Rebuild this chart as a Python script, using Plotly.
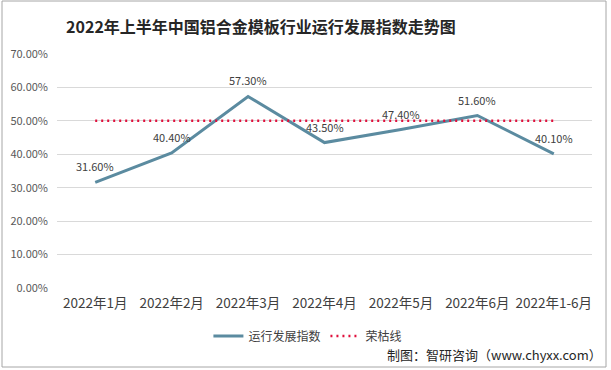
import plotly.graph_objects as go

categories = ["2022年1月", "2022年2月", "2022年3月", "2022年4月", "2022年5月", "2022年6月", "2022年1-6月"]
index_values = [0.316, 0.404, 0.573, 0.435, 0.474, 0.516, 0.401]
threshold_values = [0.50, 0.50, 0.50, 0.50, 0.50, 0.50, 0.50]
y_ticks = [0.0, 0.1, 0.2, 0.3, 0.4, 0.5, 0.6, 0.7]

fig = go.Figure()
fig.add_trace(go.Scatter(
    x=categories, y=index_values, name="运行发展指数",
    mode="lines",
    line=dict(color="#5B8BA0", width=3),
    hoverinfo="skip",
))
fig.add_trace(go.Scatter(
    x=categories, y=threshold_values, name="荣枯线",
    mode="lines",
    line=dict(color="#E0103C", width=2.5, dash="2px,4px"),
    hoverinfo="skip",
))

label_annotations = [
    dict(x=c, y=v, xref="x", yref="y", text=f"{v*100:.2f}%", showarrow=False,
         yshift=16, xanchor="center", yanchor="middle",
         font=dict(family="Noto Sans CJK SC", size=11, color="#404040"))
    for c, v in zip(categories, index_values)
]

fig.update_layout(
    width=611, height=370,
    margin=dict(l=57, r=19, t=54, b=82, autoexpand=False),
    paper_bgcolor="white", plot_bgcolor="white",
    font=dict(family="Noto Sans CJK SC", color="#404040"),
    title=dict(
        text="<b>2022年上半年中国铝合金模板行业运行发展指数走势图</b>",
        font=dict(family="Noto Sans CJK SC", size=16, color="#262626"),
        x=261 / 611, xanchor="center", y=1 - 27 / 370, yanchor="middle",
    ),
    showlegend=True,
    legend=dict(
        orientation="h", x=0.469, xanchor="center", y=-0.205, yanchor="middle",
        font=dict(family="Noto Sans CJK SC", size=12, color="#404040"),
        itemwidth=30, bgcolor="rgba(0,0,0,0)",
    ),
    xaxis=dict(
        type="category", range=[-0.5, 6.5], showgrid=False, showline=False, ticks="",
        tickfont=dict(family="Noto Sans CJK SC", size=13.5, color="#404040"),
        zeroline=False, automargin=False, ticklabelstandoff=5,
    ),
    yaxis=dict(
        range=[0, 0.7], tickvals=y_ticks, tickformat=".2%",
        showgrid=True, gridcolor="#D9D9D9", gridwidth=1,
        zeroline=False, showline=False, ticks="", automargin=False,
        tickfont=dict(family="Noto Sans CJK SC", size=11, color="#595959"),
        ticklabelstandoff=8,
    ),
    annotations=label_annotations + [dict(
        text="制图：智研咨询（www.chyxx.com）", xref="paper", yref="paper",
        x=(604 - 57) / 535, y=(288 - 355) / 234, xanchor="right", yanchor="middle",
        showarrow=False, font=dict(family="Noto Sans CJK SC", size=13, color="#262626"),
    )],
    shapes=[dict(
        type="rect", xref="paper", yref="paper",
        x0=(2 - 57) / 535, x1=(606 - 57) / 535,
        y0=(288 - 367) / 234, y1=(288 - 1) / 234,
        line=dict(color="#A6A6A6", width=1), fillcolor="rgba(0,0,0,0)",
    )],
)

fig.write_html("out.html", config={"displayModeBar": False})

with open("out.html", "r", encoding="utf-8") as f:
    html = f.read()
html = html.replace("<body>", '<body style="margin:0;padding:0;">', 1)
html = html.replace("<head>", '<head><style>html,body{margin:0;padding:0;}</style>', 1)
with open("out.html", "w", encoding="utf-8") as f:
    f.write(html)
